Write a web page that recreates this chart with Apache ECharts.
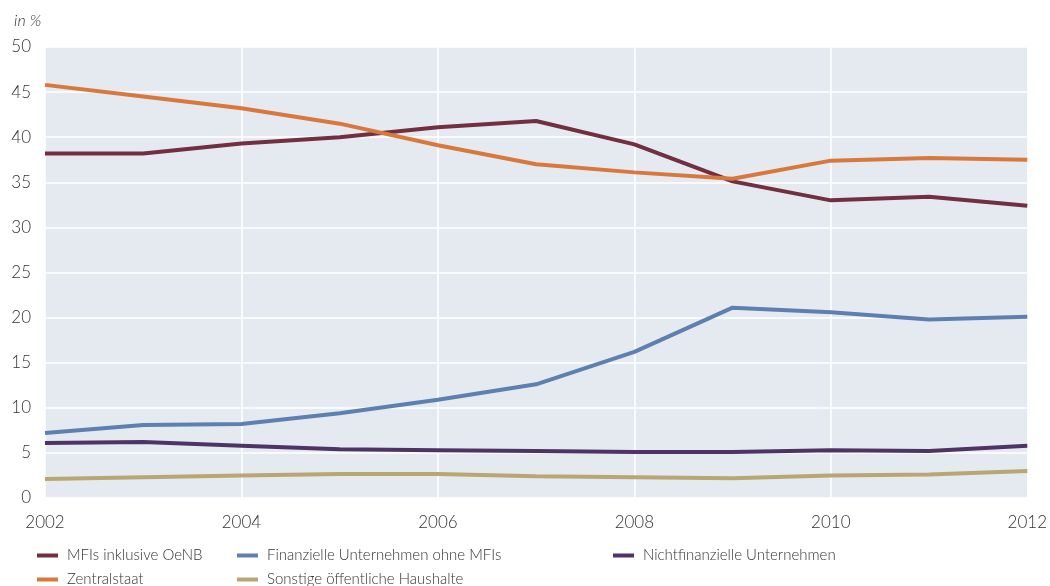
<!DOCTYPE html>
<html>
<head>
<meta charset="utf-8">
<script src="https://cdn.jsdelivr.net/npm/echarts@6/dist/echarts.min.js"></script>
<style>
  html, body { margin: 0; padding: 0; background: #fff; }
  #chart { width: 1050px; height: 586px; }
</style>
</head>
<body>
<div id="chart"></div>
<script>
// Jahre und Anteile (in %)
const years = [2002, 2003, 2004, 2005, 2006, 2007, 2008, 2009, 2010, 2011, 2012];
const mfis = [38.2, 38.2, 39.3, 40.0, 41.1, 41.8, 39.2, 35.1, 33.0, 33.4, 32.4];
const zentralstaat = [45.8, 44.5, 43.2, 41.5, 39.1, 37.0, 36.1, 35.4, 37.4, 37.7, 37.5];
const finanzielle = [7.2, 8.1, 8.2, 9.4, 10.9, 12.6, 16.2, 21.1, 20.6, 19.8, 20.1];
const nichtfinanzielle = [6.1, 6.2, 5.8, 5.4, 5.3, 5.2, 5.1, 5.1, 5.3, 5.2, 5.8];
const sonstige = [2.1, 2.3, 2.5, 2.65, 2.65, 2.4, 2.3, 2.2, 2.5, 2.6, 3.0];

const seriesDefs = [
    { name: 'MFIs inklusive OeNB', data: mfis, color: '#722f40' },
    { name: 'Zentralstaat', data: zentralstaat, color: '#d9783c' },
    { name: 'Finanzielle Unternehmen ohne MFIs', data: finanzielle, color: '#5e80b0' },
    { name: 'Sonstige öffentliche Haushalte', data: sonstige, color: '#baa673' },
    { name: 'Nichtfinanzielle Unternehmen', data: nichtfinanzielle, color: '#4f3366' }
];

const font = 'Lato, "Open Sans", sans-serif';
const textColor = '#333';

const chart = echarts.init(document.getElementById('chart'));

// eine Legende pro Eintrag, damit die Spalten sauber sitzen
function legendItem(left, top, name) {
    return {
        left: left,
        top: top,
        itemWidth: 21,
        itemHeight: 4,
        icon: 'rect',
        data: [name],
        textStyle: { fontFamily: font, fontSize: 15, color: textColor, fontWeight: 300, padding: [0, 0, 0, 4] },
        selectedMode: false
    };
}

const option = {
    animation: false,
    backgroundColor: '#fff',
    title: {
        text: 'in %',
        left: 9,
        top: 8,
        textStyle: { fontFamily: font, fontSize: 16, fontStyle: 'italic', fontWeight: 300, color: textColor }
    },
    grid: {
        left: 45,
        right: 19,
        top: 47,
        bottom: 88,
        show: true,
        backgroundColor: '#e5eaf1',
        borderWidth: 0
    },
    legend: [
        legendItem(32, 543, 'MFIs inklusive OeNB'),
        legendItem(32, 567, 'Zentralstaat'),
        legendItem(232, 543, 'Finanzielle Unternehmen ohne MFIs'),
        legendItem(232, 567, 'Sonstige öffentliche Haushalte'),
        legendItem(608, 543, 'Nichtfinanzielle Unternehmen')
    ],
    xAxis: {
        type: 'value',
        min: 2002,
        max: 2012,
        interval: 2,
        axisLine: { show: false },
        axisTick: { show: false },
        axisLabel: {
            fontFamily: font, fontSize: 17, color: textColor, fontWeight: 300, margin: 16,
            formatter: v => String(v)
        },
        splitLine: { show: true, lineStyle: { color: '#fff', width: 1.5 } }
    },
    yAxis: {
        type: 'value',
        min: 0,
        max: 50,
        interval: 5,
        axisLine: { show: false },
        axisTick: { show: false },
        axisLabel: { fontFamily: font, fontSize: 17, color: textColor, fontWeight: 300, margin: 14 },
        splitLine: { show: true, lineStyle: { color: '#fff', width: 1.5 } }
    },
    series: seriesDefs.map(s => ({
        name: s.name,
        type: 'line',
        data: years.map((y, i) => [y, s.data[i]]),
        showSymbol: false,
        symbol: 'none',
        lineStyle: { color: s.color, width: 4 },
        itemStyle: { color: s.color }
    }))
};

chart.setOption(option);
window.addEventListener('resize', () => chart.resize());
</script>
</body>
</html>
